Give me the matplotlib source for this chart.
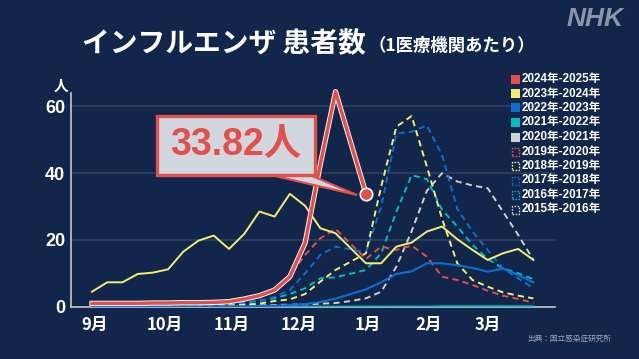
import matplotlib.pyplot as plt
import matplotlib.patheffects as pe
from matplotlib.patches import Rectangle, Polygon

plt.rcParams['font.family'] = ['Noto Sans CJK JP', 'DejaVu Sans']

# week slots: 0 = week 36 ... 16 = week 52, 17 = week 53, 18 = week 1 ... 29 = week 12
wk52 = list(range(17)) + list(range(18, 30))
wk53 = list(range(30))
x2425 = list(range(17)) + [18]

s2425 = [1.0, 1.0, 1.0, 1.0, 1.1, 1.1, 1.2, 1.2, 1.3, 1.5, 2.3, 3.3, 5.0, 9.0, 19.1, 42.7, 64.4, 33.82]
s2324 = [4.5, 7.3, 7.3, 9.8, 10.2, 11.2, 16.5, 19.8, 21.3, 17.3, 21.8, 28.5, 27.0, 33.8, 30.2, 23.5, 22.0,
         13.0, 13.0, 18.0, 19.2, 22.5, 24.0, 20.2, 17.0, 14.0, 16.0, 17.3, 14.0]
s2223 = [0.1, 0.1, 0.1, 0.1, 0.1, 0.1, 0.1, 0.1, 0.1, 0.1, 0.1, 0.2, 0.3, 0.5, 0.8, 1.4, 2.4,
         5.2, 7.3, 9.8, 10.6, 13.0, 13.0, 12.4, 11.6, 10.5, 11.4, 9.5, 7.3]
s2122 = [0.0, 0.0, 0.0, 0.0, 0.0, 0.0, 0.0, 0.0, 0.0, 0.0, 0.0, 0.0, 0.0, 0.0, 0.0, 0.0, 0.0,
         0.0, 0.0, 0.0, 0.0, 0.0, 0.1, 0.1, 0.1, 0.1, 0.1, 0.1, 0.1]
s2021 = [0.0] * 30
s1920 = [1.2, 1.3, 1.1, 1.1, 1.0, 1.0, 1.0, 1.1, 1.2, 1.4, 1.9, 3.0, 5.0, 9.5, 15.5, 20.5, 23.3,
         14.3, 18.0, 17.0, 18.3, 15.0, 9.0, 8.0, 6.5, 4.8, 3.3, 2.3, 1.2]
s1819 = [0.1, 0.1, 0.1, 0.1, 0.1, 0.1, 0.1, 0.2, 0.3, 0.4, 0.6, 0.9, 1.7, 2.2, 3.8, 7.5, 11.0,
         16.0, 36.0, 53.9, 57.1, 42.0, 26.3, 13.0, 8.0, 6.0, 4.3, 3.3, 2.5]
s1718 = [0.3, 0.3, 0.3, 0.3, 0.3, 0.3, 0.4, 0.5, 0.6, 0.8, 1.0, 1.5, 3.0, 5.0, 10.0, 15.5, 18.0,
         16.3, 30.0, 51.9, 52.4, 54.3, 45.4, 29.3, 22.5, 17.0, 11.5, 8.5, 5.5]
s1617 = [0.2, 0.2, 0.3, 0.3, 0.3, 0.4, 0.5, 0.6, 0.7, 0.9, 1.2, 1.8, 2.5, 3.8, 5.5, 8.5, 8.8,
         11.0, 16.0, 28.5, 39.4, 38.2, 29.0, 24.0, 18.5, 14.3, 11.5, 10.0, 8.2]
s1516 = [0.2, 0.2, 0.2, 0.2, 0.2, 0.2, 0.2, 0.2, 0.3, 0.3, 0.4, 0.4, 0.5, 0.6, 0.7, 0.9, 1.1,
         1.7, 2.5, 4.5, 12.0, 22.6, 34.7, 40.0, 37.5, 36.3, 35.5, 28.5, 21.5, 14.0]

seasons = ['2024年-2025年', '2023年-2024年', '2022年-2023年', '2021年-2022年', '2020年-2021年',
           '2019年-2020年', '2018年-2019年', '2017年-2018年', '2016年-2017年', '2015年-2016年']
months = ['9月', '10月', '11月', '12月', '1月', '2月', '3月']
month_pos = [0.2, 4.8, 9.2, 13.6, 18.1, 22.1, 26.0]

bg = '#11264a'
red = '#e2504c'
yellow = '#f2ee72'
blue = '#0a6fd2'
cyan = '#00bcc6'
grey = '#d0d0d0'
colors = [red, yellow, blue, cyan, grey, red, yellow, blue, cyan, grey]

W, H = 639, 359
def fx(px):
    return px / W
def fy(py):
    return 1 - py / H

fig = plt.figure(figsize=(6.39, 3.59), dpi=100, facecolor=bg)
ax = fig.add_axes([fx(70.7), fy(306.7), (555 - 70.7) / W, (306.7 - 93) / H])
ax.set_facecolor(bg)
ax.set_xlim(-1.4, 30.42)
ax.set_ylim(0, 64)

for v in [20, 40, 60]:
    ax.axhline(v, color='#2b3e5e', lw=1.3, zorder=1)

dash = (3.2, 2.2)
ax.plot(wk53, s1516, color=grey, lw=1.4, dashes=dash, zorder=3)
ax.plot(wk52, s1617, color=cyan, lw=1.4, dashes=dash, zorder=3)
ax.plot(wk52, s1718, color=blue, lw=1.4, dashes=dash, zorder=3)
ax.plot(wk52, s1819, color=yellow, lw=1.4, dashes=dash, zorder=3)
ax.plot(wk52, s1920, color=red, lw=1.4, dashes=dash, zorder=3)
ax.plot(wk53, s2021, color=grey, lw=1.5, zorder=4)
ax.plot(wk52, s2122, color=cyan, lw=1.5, zorder=4)
ax.plot(wk52, s2223, color=blue, lw=1.5, zorder=4)
ax.plot(wk52, s2324, color=yellow, lw=1.4, zorder=4)
ax.plot(x2425, s2425, color=red, lw=2.5, zorder=6, clip_on=False,
        path_effects=[pe.Stroke(linewidth=3.8, foreground='white'), pe.Normal()])
ax.scatter([x2425[-1]], [s2425[-1]], s=80, color=red, edgecolor='white', linewidth=1.2,
           zorder=8, clip_on=False)

for s in ['top', 'right']:
    ax.spines[s].set_visible(False)
for s in ['left', 'bottom']:
    ax.spines[s].set_color('#c8c8c8')
    ax.spines[s].set_linewidth(1.2)
    ax.spines[s].set_zorder(2)

ax.set_yticks([0, 20, 40, 60])
ax.set_yticklabels(['0', '20', '40', '60'], color='white', fontsize=13, fontweight='bold',
                   family=['Liberation Sans', 'DejaVu Sans'])
ax.set_xticks(month_pos)
ax.set_xticklabels(months, color='white', fontsize=12, fontweight='bold')
ax.tick_params(axis='both', length=0)
ax.tick_params(axis='y', pad=4)
ax.tick_params(axis='x', pad=7)

fig.text(fx(61), fy(86), '人', color='white', fontsize=10.5, fontweight='bold',
         ha='center', va='center')

# callout
wedge = Polygon([(fx(262), fy(173)), (fx(305), fy(173)), (fx(357), fy(195))],
                closed=True, transform=fig.transFigure, facecolor='#d2d6de',
                edgecolor=red, lw=1.5, zorder=7)
fig.patches.append(wedge)
box = Rectangle((fx(157), fy(175)), (315 - 157) / W, (175 - 116) / H, transform=fig.transFigure,
                facecolor='#d2d6de', edgecolor=red, lw=2.4, zorder=8)
fig.patches.append(box)
fig.text(fx(236), fy(146), '33.82人', color=red, fontsize=27, fontweight='bold',
         ha='center', va='center', family=['Liberation Sans', 'Noto Sans CJK JP'], zorder=9)

# title
fig.text(fx(82), fy(44), 'インフルエンザ 患者数', color='white', fontsize=20, fontweight='bold',
         ha='left', va='center')
fig.text(fx(368), fy(46), '（1医療機関あたり）', color='white', fontsize=12.5, fontweight='bold',
         ha='left', va='center')
fig.text(fx(595), fy(19), 'NHK', color='#8b95a7', fontsize=19, fontweight='heavy',
         fontstyle='italic', ha='center', va='center', family=['Liberation Sans', 'DejaVu Sans'])
fig.text(fx(569), fy(339), '出典：国立感染症研究所', color='#a0a8b8', fontsize=5.5,
         ha='center', va='center')

# legend
rows = [79, 93.5, 108, 122.5, 137, 151.5, 166, 180.5, 195, 209.5]
for k in range(10):
    y = rows[k]
    if k < 5:
        r = Rectangle((fx(511), fy(y + 4.5)), 8.5 / W, 9 / H, transform=fig.transFigure,
                      facecolor=colors[k], edgecolor='none')
    else:
        r = Rectangle((fx(511.5), fy(y + 4)), 7.5 / W, 8 / H, transform=fig.transFigure,
                      facecolor='none', edgecolor=colors[k], lw=1.0, linestyle=(0, (1.2, 1.0)))
    fig.patches.append(r)
    fig.text(fx(521.5), fy(y), seasons[k], color='white', fontsize=8.4, fontweight='bold',
             ha='left', va='center', family=['Liberation Sans', 'Noto Sans CJK JP'])

plt.savefig('out.png', dpi=100, facecolor=bg)
